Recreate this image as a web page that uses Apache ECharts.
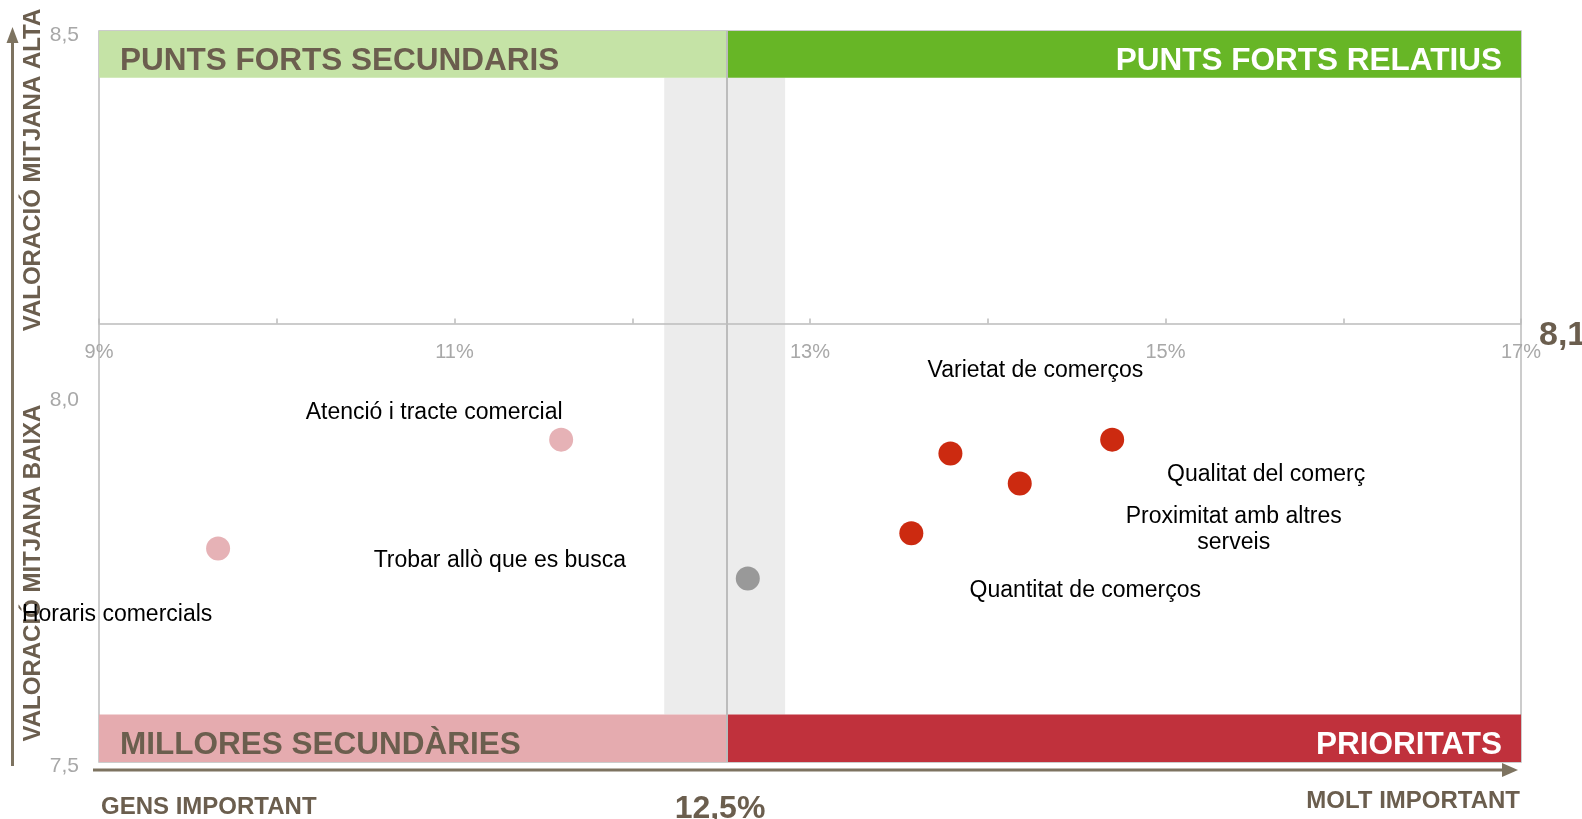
<!DOCTYPE html>
<html>
<head>
<meta charset="utf-8">
<title>Matriu importància / valoració</title>
<script src="https://cdn.jsdelivr.net/npm/echarts@6/dist/echarts.min.js"></script>
<style>
  html, body { margin: 0; padding: 0; background: #fff; }
  #chart { width: 1582px; height: 819px; }
</style>
</head>
<body>
<div id="chart"></div>
<script>
// dades llegides del gràfic
const factors = ['Varietat de comerços', 'Qualitat del comerç', 'Proximitat amb altres\nserveis', 'Quantitat de comerços', 'Atenció i tracte comercial', 'Trobar allò que es busca', 'Horaris comercials']
const importance = [13.79, 14.70, 14.18, 13.57, 11.60, 12.65, 9.67]
const rating = [7.922, 7.941, 7.881, 7.813, 7.941, 7.751, 7.792]
const group = ['prioritat', 'prioritat', 'prioritat', 'prioritat', 'secundaria', 'neutre', 'secundaria']

const xTicks = [9, 11, 13, 15, 17]
const yTicks = [7.5, 8.0, 8.5]
const thresholdX = 12.53
const thresholdY = 8.1
const bandX = [12.18, 12.86]
const bandY = [7.565, 8.436]

const FONT = '"Liberation Sans", Arial, sans-serif'
const textColor = '#6b5e4e'
const arrowColor = '#7d7360'
const gridColor = '#bcbcbc'
const groupColor = { prioritat: '#cc2a10', secundaria: '#e6b2b6', neutre: '#999999' }
// desplaçament de cada etiqueta respecte al punt
const labelOffsets = [[85, -83], [154, 35], [214, 46], [174, 57], [-127, -27], [-248, -18], [-101, 66]]

const grid = { left: 99, right: 61, top: 31, bottom: 57 }
const plotHeight = 819 - grid.top - grid.bottom

const fmtComma = (v, d) => v.toFixed(d).replace('.', ',')

const points = factors.map((name, i) => ({
  name,
  value: [importance[i], rating[i]],
  itemStyle: { color: groupColor[group[i]], opacity: 1 },
  label: { offset: labelOffsets[i] }
}))

function band (x0, x1, y0, y1, color, text, textColor, side) {
  return [
    {
      xAxis: x0,
      yAxis: y0,
      itemStyle: { color, opacity: 1 },
      label: {
        show: true,
        formatter: text,
        position: side === 'left' ? 'insideLeft' : 'insideRight',
        distance: side === 'left' ? 21 : 19,
        offset: [0, 7],
        color: textColor,
        fontFamily: FONT,
        fontSize: 31.5,
        fontWeight: 'bold'
      }
    },
    { xAxis: x1, yAxis: y1 }
  ]
}

const option = {
  animation: false,
  textStyle: { fontFamily: FONT },
  grid: {
    left: grid.left,
    right: grid.right,
    top: grid.top,
    bottom: grid.bottom,
    show: true,
    borderColor: gridColor,
    borderWidth: 1.5
  },
  xAxis: {
    type: 'value',
    min: 9,
    max: 17,
    interval: 1,
    z: 5,
    // l'eix X creua a 8,1
    offset: -plotHeight * (thresholdY - yTicks[0]) / (yTicks[2] - yTicks[0]),
    axisLine: { lineStyle: { color: gridColor, width: 1.5 } },
    axisTick: { inside: true, length: 5, lineStyle: { color: gridColor, width: 1.5 } },
    axisLabel: {
      formatter: (v) => xTicks.indexOf(v) >= 0 ? v + '%' : '',
      color: '#a8a8a8',
      fontFamily: FONT,
      fontSize: 20,
      margin: 19
    },
    splitLine: { show: false }
  },
  yAxis: {
    type: 'value',
    min: 7.5,
    max: 8.5,
    interval: 0.5,
    axisLine: { show: false },
    axisTick: { show: false },
    axisLabel: {
      formatter: (v) => yTicks.indexOf(v) >= 0 ? fmtComma(v, 1) : '',
      color: '#a8a8a8',
      fontFamily: FONT,
      fontSize: 21,
      margin: 20,
      verticalAlign: 'top',
      lineHeight: 8
    },
    splitLine: { show: false }
  },
  series: [
    {
      // franja grisa i línia del llindar
      type: 'scatter',
      data: [],
      z: 1,
      markArea: {
        silent: true,
        data: [[{ xAxis: bandX[0], yAxis: bandY[0], itemStyle: { color: '#ececec', opacity: 1 } }, { xAxis: bandX[1], yAxis: bandY[1] }]]
      },
      markLine: {
        silent: true,
        symbol: 'none',
        label: { show: false },
        lineStyle: { color: gridColor, width: 2, type: 'solid' },
        data: [{ xAxis: thresholdX }]
      }
    },
    {
      // bandes dels quadrants
      type: 'scatter',
      data: [],
      z: 2,
      markArea: {
        silent: true,
        data: [
          band(9, thresholdX, bandY[1], 8.5, '#c5e3a6', 'PUNTS FORTS SECUNDARIS', textColor, 'left'),
          band(thresholdX, 17, bandY[1], 8.5, '#67b626', 'PUNTS FORTS RELATIUS', '#fff', 'right'),
          band(9, thresholdX, 7.5, bandY[0], '#e5abaf', 'MILLORES SECUNDÀRIES', textColor, 'left'),
          band(thresholdX, 17, 7.5, bandY[0], '#c0313c', 'PRIORITATS', '#fff', 'right')
        ]
      }
    },
    {
      type: 'scatter',
      z: 6,
      symbolSize: 24,
      data: points,
      label: {
        show: true,
        position: 'inside',
        formatter: '{b}',
        color: '#000',
        fontFamily: FONT,
        fontSize: 23,
        lineHeight: 26,
        align: 'center'
      }
    }
  ],
  graphic: [
    { type: 'line', shape: { x1: 12.5, y1: 766, x2: 12.5, y2: 40 }, style: { stroke: arrowColor, lineWidth: 3 } },
    { type: 'polygon', shape: { points: [[12.5, 27], [6.5, 43], [18.5, 43]] }, style: { fill: arrowColor } },
    { type: 'line', shape: { x1: 93, y1: 770, x2: 1505, y2: 770 }, style: { stroke: arrowColor, lineWidth: 3 } },
    { type: 'polygon', shape: { points: [[1518, 770], [1502, 763], [1502, 777]] }, style: { fill: arrowColor } },
    {
      type: 'text', x: 33, y: 170, rotation: Math.PI / 2,
      style: { text: 'VALORACIÓ MITJANA ALTA', fill: textColor, font: 'bold 24px ' + FONT, align: 'center', verticalAlign: 'middle' }
    },
    {
      type: 'text', x: 33, y: 573, rotation: Math.PI / 2,
      style: { text: 'VALORACIÓ MITJANA BAIXA', fill: textColor, font: 'bold 24px ' + FONT, align: 'center', verticalAlign: 'middle' }
    },
    {
      type: 'text', x: 101, y: 807,
      style: { text: 'GENS IMPORTANT', fill: textColor, font: 'bold 24px ' + FONT, align: 'left', verticalAlign: 'middle' }
    },
    {
      type: 'text', x: 720, y: 809,
      style: { text: fmtComma(12.5, 1) + '%', fill: textColor, font: 'bold 32px ' + FONT, align: 'center', verticalAlign: 'middle' }
    },
    {
      type: 'text', x: 1520, y: 801,
      style: { text: 'MOLT IMPORTANT', fill: textColor, font: 'bold 24px ' + FONT, align: 'right', verticalAlign: 'middle' }
    },
    {
      type: 'text', x: 1539, y: 336,
      style: { text: fmtComma(thresholdY, 1), fill: textColor, font: 'bold 34px ' + FONT, align: 'left', verticalAlign: 'middle' }
    }
  ]
}

const myChart = echarts.init(document.getElementById('chart'))
myChart.setOption(option)
</script>
</body>
</html>
